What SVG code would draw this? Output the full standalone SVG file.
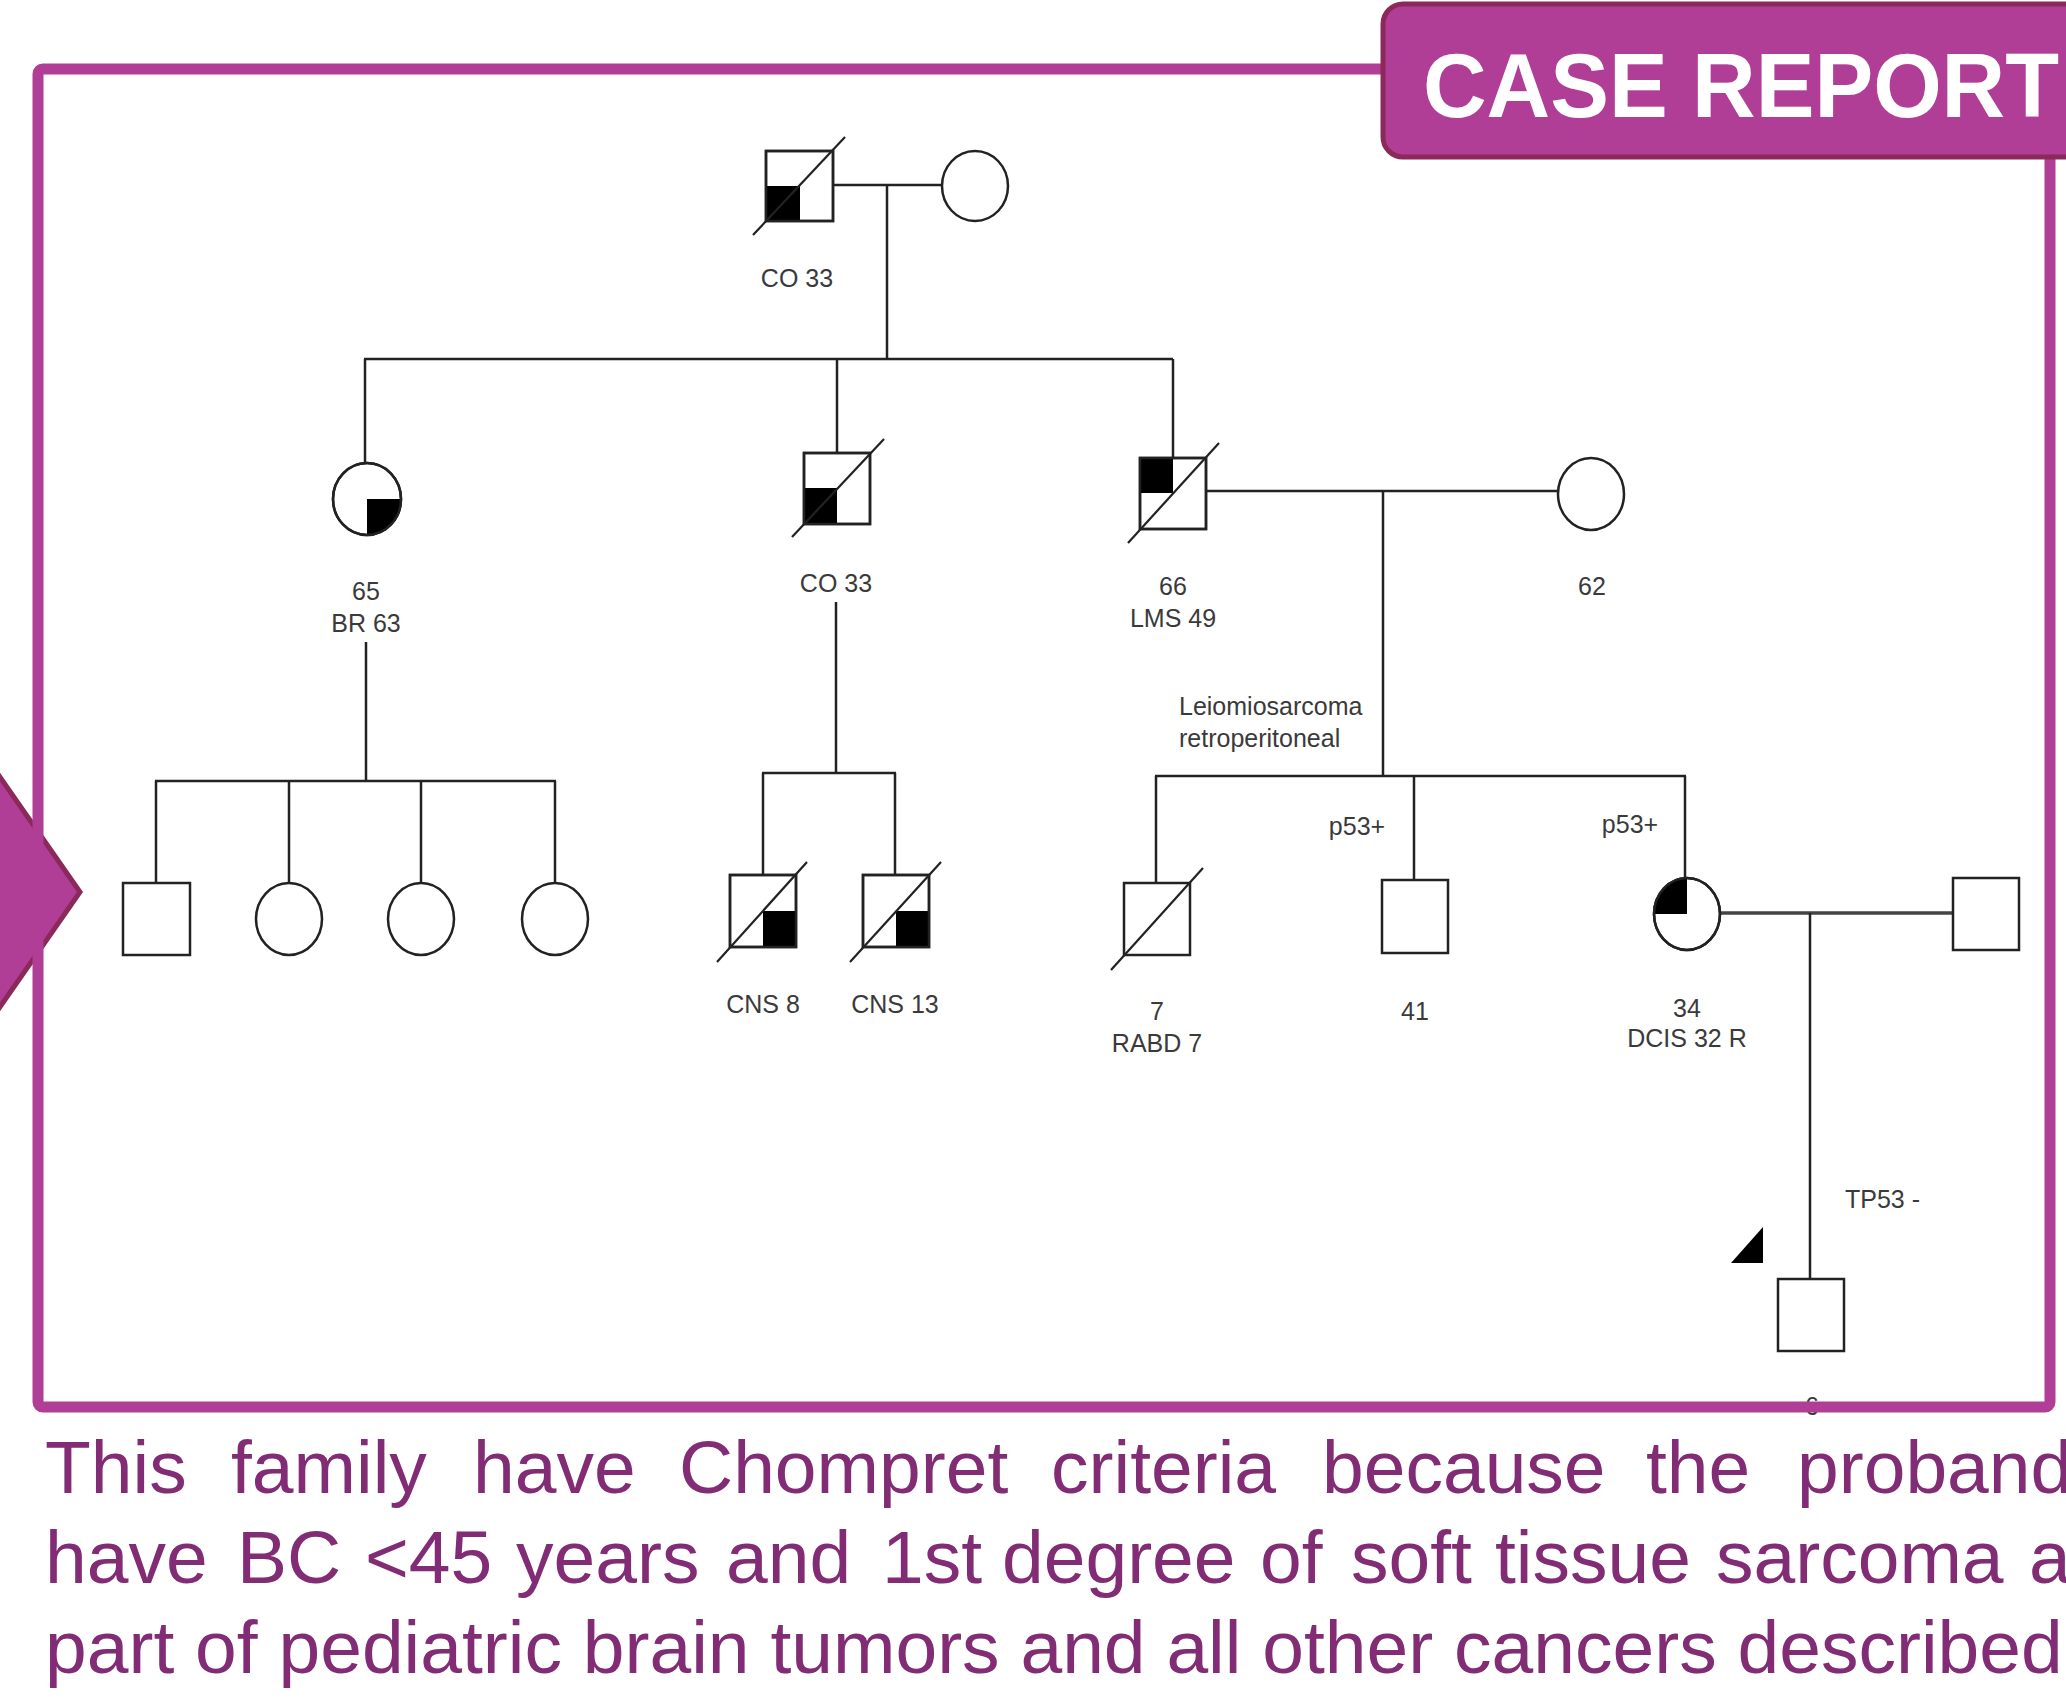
<svg xmlns="http://www.w3.org/2000/svg" width="2066" height="1708" viewBox="0 0 2066 1708">
  <style>
    .ln { stroke: #222; stroke-width: 2.5; fill: none; }
    .sym { fill: #fff; stroke: #222; stroke-width: 2.5; }
    .aff { fill: #000; stroke: none; }
    .dead { stroke: #222; stroke-width: 2.2; }
    .lbl { font-family: "Liberation Sans", Arial, sans-serif; font-size: 25px; fill: #3a3a3a; text-anchor: middle; }
    .lbl-l { font-family: "Liberation Sans", Arial, sans-serif; font-size: 25px; fill: #3a3a3a; }
    .frame { fill: none; stroke: #b03e97; stroke-width: 11; }
    .note { font-family: "Liberation Sans", Arial, sans-serif; font-size: 75px; fill: #812c75; }
  </style>
  <rect width="2066" height="1708" fill="#fff"/>

  <!-- Connectors: marriage lines, descent lines, sibship lines -->
  <g id="connectors" class="ln">
    <line x1="833" y1="185" x2="942" y2="185"/>
    <line x1="887" y1="185" x2="887" y2="359"/>
    <line x1="364" y1="359" x2="1173" y2="359"/>
    <line x1="365" y1="359" x2="365" y2="463"/>
    <line x1="837" y1="359" x2="837" y2="453"/>
    <line x1="1173" y1="359" x2="1173" y2="458"/>

    <line x1="366" y1="642" x2="366" y2="781"/>
    <line x1="155" y1="781" x2="556" y2="781"/>
    <line x1="156" y1="781" x2="156" y2="883"/>
    <line x1="289" y1="781" x2="289" y2="883"/>
    <line x1="421" y1="781" x2="421" y2="883"/>
    <line x1="555" y1="781" x2="555" y2="883"/>

    <line x1="836" y1="602" x2="836" y2="773"/>
    <line x1="762" y1="773" x2="896" y2="773"/>
    <line x1="763" y1="773" x2="763" y2="875"/>
    <line x1="895" y1="773" x2="895" y2="875"/>

    <line x1="1206" y1="491" x2="1558" y2="491"/>
    <line x1="1383" y1="491" x2="1383" y2="776"/>
    <line x1="1155" y1="776" x2="1686" y2="776"/>
    <line x1="1156" y1="776" x2="1156" y2="883"/>
    <line x1="1414" y1="776" x2="1414" y2="880"/>
    <line x1="1685" y1="776" x2="1685" y2="878"/>

    <line x1="1720" y1="913" x2="1953" y2="913" stroke="#444" stroke-width="3.5"/>
    <line x1="1810" y1="913" x2="1810" y2="1279"/>
  </g>

  <!-- Generation I -->
  <g id="gen1-father">
    <rect class="sym" x="766" y="151" width="67" height="70"/>
    <rect class="aff" x="766" y="186" width="34" height="35"/>
    <rect fill="none" stroke="#222" stroke-width="2.5" x="766" y="151" width="67" height="70"/>
    <line class="dead" x1="753" y1="235" x2="845" y2="137"/>
    <text class="lbl" x="797" y="287">CO 33</text>
  </g>
  <g id="gen1-mother">
    <ellipse class="sym" cx="975" cy="186" rx="33" ry="35"/>
  </g>

  <!-- Generation II -->
  <g id="gen2-daughter">
    <ellipse class="sym" cx="367" cy="499" rx="34" ry="36"/>
    <path class="aff" d="M367,499 L401,499 A34,36 0 0 1 367,535 Z"/>
    <ellipse fill="none" stroke="#222" stroke-width="2.5" cx="367" cy="499" rx="34" ry="36"/>
    <text class="lbl" x="366" y="600">65</text>
    <text class="lbl" x="366" y="632">BR 63</text>
  </g>
  <g id="gen2-son-co">
    <rect class="sym" x="804" y="453" width="66" height="71"/>
    <rect class="aff" x="804" y="488" width="33" height="36"/>
    <rect fill="none" stroke="#222" stroke-width="2.5" x="804" y="453" width="66" height="71"/>
    <line class="dead" x1="792" y1="537" x2="884" y2="439"/>
    <text class="lbl" x="836" y="592">CO 33</text>
  </g>
  <g id="gen2-son-lms">
    <rect class="sym" x="1140" y="458" width="66" height="71"/>
    <rect class="aff" x="1140" y="458" width="33" height="35"/>
    <rect fill="none" stroke="#222" stroke-width="2.5" x="1140" y="458" width="66" height="71"/>
    <line class="dead" x1="1128" y1="543" x2="1219" y2="443"/>
    <text class="lbl" x="1173" y="595">66</text>
    <text class="lbl" x="1173" y="627">LMS 49</text>
    <text class="lbl-l" x="1179" y="715">Leiomiosarcoma</text>
    <text class="lbl-l" x="1179" y="747">retroperitoneal</text>
  </g>
  <g id="gen2-spouse">
    <ellipse class="sym" cx="1591" cy="494" rx="33" ry="36"/>
    <text class="lbl" x="1592" y="595">62</text>
  </g>

  <!-- Generation III: children of the daughter -->
  <g id="gen3-b1-son">
    <rect class="sym" x="123" y="883" width="67" height="72"/>
  </g>
  <g id="gen3-b1-daughter1">
    <ellipse class="sym" cx="289" cy="919" rx="33" ry="36"/>
  </g>
  <g id="gen3-b1-daughter2">
    <ellipse class="sym" cx="421" cy="919" rx="33" ry="36"/>
  </g>
  <g id="gen3-b1-daughter3">
    <ellipse class="sym" cx="555" cy="919" rx="33" ry="36"/>
  </g>

  <!-- Generation III: children of the CO son -->
  <g id="gen3-cns8">
    <rect class="sym" x="730" y="875" width="66" height="72"/>
    <rect class="aff" x="763" y="911" width="33" height="36"/>
    <rect fill="none" stroke="#222" stroke-width="2.5" x="730" y="875" width="66" height="72"/>
    <line class="dead" x1="717" y1="962" x2="807" y2="862"/>
    <text class="lbl" x="763" y="1013">CNS 8</text>
  </g>
  <g id="gen3-cns13">
    <rect class="sym" x="863" y="875" width="66" height="72"/>
    <rect class="aff" x="896" y="911" width="33" height="36"/>
    <rect fill="none" stroke="#222" stroke-width="2.5" x="863" y="875" width="66" height="72"/>
    <line class="dead" x1="850" y1="962" x2="941" y2="862"/>
    <text class="lbl" x="895" y="1013">CNS 13</text>
  </g>

  <!-- Generation III: children of the LMS son -->
  <g id="gen3-rabd">
    <rect class="sym" x="1124" y="883" width="66" height="72"/>
    <line class="dead" x1="1111" y1="970" x2="1203" y2="868"/>
    <text class="lbl" x="1157" y="1020">7</text>
    <text class="lbl" x="1157" y="1052">RABD 7</text>
  </g>
  <g id="gen3-son41">
    <rect class="sym" x="1382" y="880" width="66" height="73"/>
    <text class="lbl" x="1357" y="835">p53+</text>
    <text class="lbl" x="1415" y="1020">41</text>
  </g>
  <g id="gen3-proband">
    <ellipse class="sym" cx="1687" cy="914" rx="33" ry="36"/>
    <path class="aff" d="M1687,914 L1654,914 A33,36 0 0 1 1687,878 Z"/>
    <ellipse fill="none" stroke="#222" stroke-width="2.5" cx="1687" cy="914" rx="33" ry="36"/>
    <text class="lbl" x="1630" y="833">p53+</text>
    <text class="lbl" x="1687" y="1017">34</text>
    <text class="lbl" x="1687" y="1047">DCIS 32 R</text>
  </g>
  <g id="gen3-proband-spouse">
    <rect class="sym" x="1953" y="878" width="66" height="72"/>
  </g>

  <!-- Generation IV -->
  <g id="gen4-son">
    <rect class="sym" x="1778" y="1279" width="66" height="72"/>
    <polygon fill="#000" points="1731,1263 1763,1227 1763,1263"/>
    <text class="lbl-l" x="1845" y="1208">TP53 -</text>
    <text class="lbl" x="1812" y="1415" fill="#555">6</text>
  </g>

  <!-- Side pointer and frame -->
  <g id="side-pointer">
    <polygon points="-60,691 80,892 -60,1093" fill="#b03e97" stroke="#8b2a5a" stroke-width="5" stroke-linejoin="miter"/>
  </g>
  <rect class="frame" x="38" y="69" width="2012" height="1338" rx="5"/>

  <!-- Title tab -->
  <g id="title">
    <rect x="1383" y="4" width="740" height="153" rx="20" fill="#b03e97" stroke="#8b2a5a" stroke-width="5"/>
    <text x="1423" y="117" font-family="Liberation Sans, Arial, sans-serif" font-weight="bold" font-size="90" fill="#fff" textLength="636" lengthAdjust="spacingAndGlyphs">CASE REPORT</text>
  </g>

  <!-- Caption -->
  <g id="caption" class="note">
    <text y="1493"><tspan x="45">This</tspan><tspan x="231">family</tspan><tspan x="473">have</tspan><tspan x="679">Chompret</tspan><tspan x="1051">criteria</tspan><tspan x="1322">because</tspan><tspan x="1646">the</tspan><tspan x="1797">proband</tspan></text>
    <text y="1583"><tspan x="45">have</tspan><tspan x="237">BC</tspan><tspan x="365">&lt;45</tspan><tspan x="516">years</tspan><tspan x="726">and</tspan><tspan x="882">1st</tspan><tspan x="1002">degree</tspan><tspan x="1260">of</tspan><tspan x="1351">soft</tspan><tspan x="1495">tissue</tspan><tspan x="1716">sarcoma</tspan><tspan x="2029">a</tspan></text>
    <text x="45" y="1673">part of pediatric brain tumors and all other cancers described</text>
  </g>
</svg>
